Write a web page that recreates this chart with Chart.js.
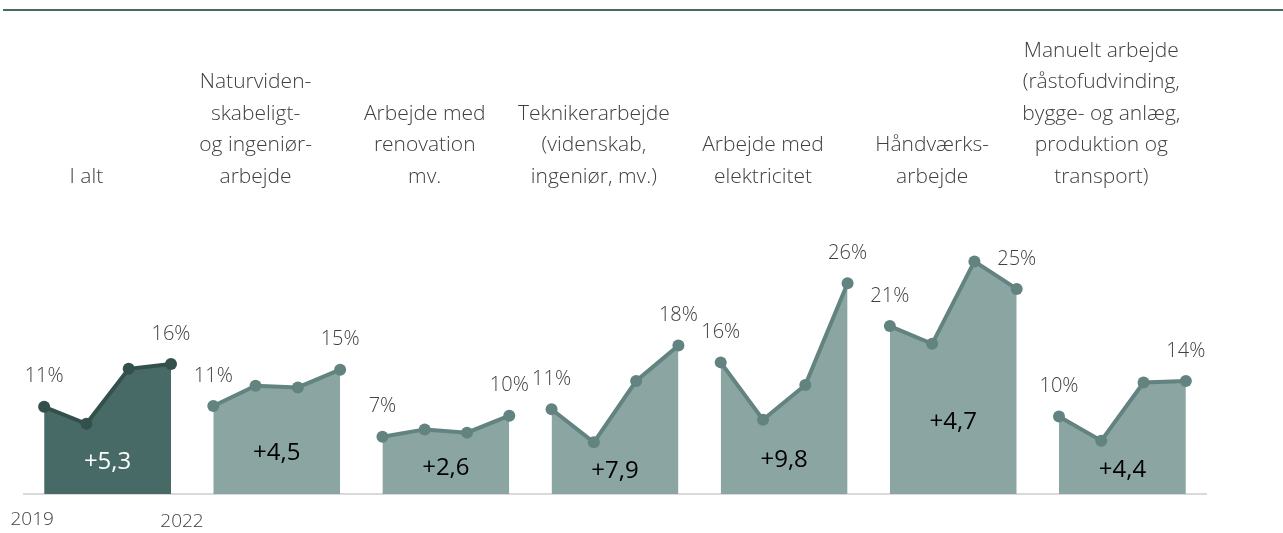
<!DOCTYPE html>
<html>
<head>
<meta charset="utf-8">
<script src="https://cdn.jsdelivr.net/npm/chart.js@4/dist/chart.umd.min.js"></script>
<style>
    body { margin: 0; background: #ffffff; }
    #wrap { position: relative; width: 1283px; height: 533px; }
    #topline { position: absolute; left: 3px; right: 0; top: 9px; height: 2px; background: #476a65; }
</style>
</head>
<body>
<div id="wrap">
    <div id="topline"></div>
    <canvas id="myChart"></canvas>
</div>
<script>
// Data (share in %, 2019-2022)
// =======================================================
var years = ["2019", "2020", "2021", "2022"];

var categories = [
    ["I alt"],
    ["Naturviden-", "skabeligt-", "og ingeniør-", "arbejde"],
    ["Arbejde med", "renovation", "mv."],
    ["Teknikerarbejde", "(videnskab,", "ingeniør, mv.)"],
    ["Arbejde med", "elektricitet"],
    ["Håndværks-", "arbejde"],
    ["Manuelt arbejde", "(råstofudvinding,", "bygge- og anlæg,", "produktion og", "transport)"]
];

var iAlt = [10.8, 8.7, 15.5, 16.1];
var naturvidenskab = [10.9, 13.4, 13.2, 15.4];
var renovation = [7.1, 8.0, 7.6, 9.7];
var tekniker = [10.5, 6.4, 14.0, 18.4];
var elektricitet = [16.3, 9.2, 13.5, 26.1];
var haandvaerk = [20.8, 18.6, 28.8, 25.4];
var manuelt = [9.6, 6.6, 13.8, 14.0];

var changes = ["+5,3", "+4,5", "+2,6", "+7,9", "+9,8", "+4,7", "+4,4"];

var series = [iAlt, naturvidenskab, renovation, tekniker, elektricitet, haandvaerk, manuelt];

var darkFill = "#486a66";
var darkLine = "#33504c";
var lightFill = "#8aa5a2";
var lightLine = "#62837f";
var textColor = "#404040";
var titleFont = "300 21px 'Open Sans', 'Noto Sans', sans-serif";
var valueFont = "300 20px 'Open Sans', 'Noto Sans', sans-serif";

// One dataset per group, placed next to each other on a linear x axis
// =======================================================
var datasets = series.map(function (values, g) {
    var first = g === 0;
    return {
        label: categories[g].join(" "),
        data: values.map(function (v, i) {
            return { x: g * years.length + i, y: v };
        }),
        fill: "origin",
        backgroundColor: first ? darkFill : lightFill,
        borderColor: first ? darkLine : lightLine,
        pointBackgroundColor: first ? darkLine : lightLine,
        pointBorderColor: first ? darkLine : lightLine,
        borderWidth: 4,
        pointRadius: 6,
        pointBorderWidth: 0,
        tension: 0,
        clip: false
    };
});

// Baseline, category titles, end values, change labels and years
// =======================================================
var labelsPlugin = {
    id: "labels",
    beforeDatasetsDraw: function (chart) {
        var ctx = chart.ctx;
        var y = chart.scales.y;
        ctx.save();
        ctx.strokeStyle = "#d9d9d9";
        ctx.lineWidth = 2;
        ctx.beginPath();
        ctx.moveTo(chart.chartArea.left, y.getPixelForValue(0));
        ctx.lineTo(chart.chartArea.right, y.getPixelForValue(0));
        ctx.stroke();
        ctx.restore();
    },
    afterDatasetsDraw: function (chart) {
        var ctx = chart.ctx;
        var x = chart.scales.x;
        var y = chart.scales.y;
        ctx.save();
        ctx.textAlign = "center";
        ctx.textBaseline = "middle";

        series.forEach(function (values, g) {
            var pts = chart.getDatasetMeta(g).data;
            var last = values.length - 1;

            // category title, bottom line aligned for all groups
            ctx.font = titleFont;
            ctx.fillStyle = textColor;
            var lines = categories[g];
            var cx = x.getPixelForValue(g * years.length + 1);
            lines.forEach(function (line, i) {
                ctx.fillText(line, cx, 177 - (lines.length - 1 - i) * 31.5);
            });

            // first and last value
            ctx.font = valueFont;
            ctx.fillText(Math.round(values[0]) + "%", pts[0].x, pts[0].y - 30);
            ctx.fillText(Math.round(values[last]) + "%", pts[last].x, pts[last].y - 30);

            // change in percentage points
            var low = Math.min.apply(null, values);
            var mid = (pts[0].x + pts[last].x) / 2;
            ctx.font = "400 24px 'Open Sans', 'Noto Sans', sans-serif";
            ctx.fillStyle = g === 0 ? "#ffffff" : "#000000";
            ctx.fillText(changes[g], mid, y.getPixelForValue(low / 2) + 3);
        });

        // years under the first group
        var m0 = chart.getDatasetMeta(0).data;
        ctx.font = "300 19px 'Open Sans', 'Noto Sans', sans-serif";
        ctx.fillStyle = textColor;
        ctx.fillText(years[0], m0[0].x - 12, 520);
        ctx.fillText(years[years.length - 1], m0[m0.length - 1].x + 11, 522);
        ctx.restore();
    }
};

var ctx = document.getElementById("myChart");

var myChart = new Chart(ctx, {
    type: "line",
    data: { datasets: datasets },
    options: {
        responsive: true,
        maintainAspectRatio: false,
        animation: false,
        layout: {
            padding: { left: 23, right: 76, top: 171, bottom: 39 }
        },
        plugins: {
            legend: { display: false },
            tooltip: { enabled: false }
        },
        scales: {
            x: { type: "linear", min: -0.5, max: 27.5, display: false },
            y: { min: 0, max: 40, display: false }
        }
    },
    plugins: [labelsPlugin]
});
</script>
</body>
</html>
